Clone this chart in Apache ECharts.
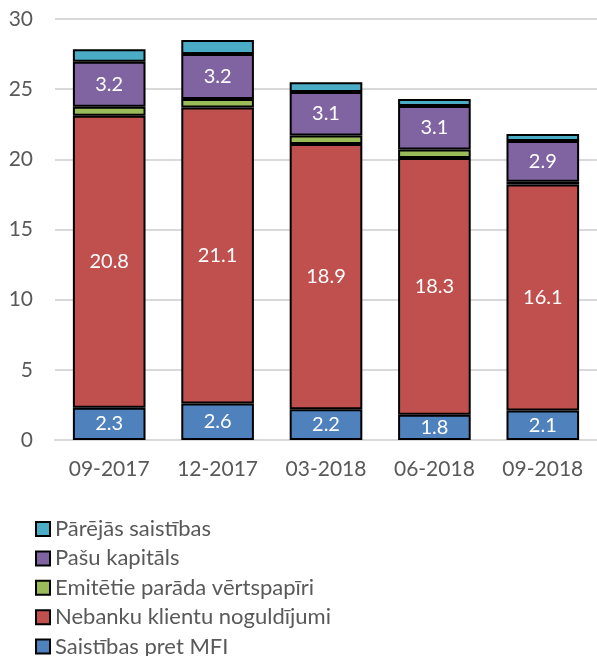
<!DOCTYPE html>
<html>
<head>
<meta charset="utf-8">
<script src="https://cdn.jsdelivr.net/npm/echarts@6/dist/echarts.min.js"></script>
<style>
  html, body { margin: 0; padding: 0; background: #fff; }
  #main { width: 597px; height: 656px; }
</style>
</head>
<body>
<div id="main"></div>
<script>
// categories and series values (bn EUR)
const categories = ['09-2017', '12-2017', '03-2018', '06-2018', '09-2018'];
const mfi = [2.3, 2.6, 2.2, 1.8, 2.1];
const deposits = [20.8, 21.1, 18.9, 18.3, 16.1];
const securities = [0.65, 0.6, 0.6, 0.6, 0.2];
const equity = [3.2, 3.2, 3.1, 3.1, 2.9];
const other = [0.9, 1.0, 0.7, 0.5, 0.5];

const names = [
    'Saistības pret MFI',
    'Nebanku klientu noguldījumi',
    'Emitētie parāda vērtspapīri',
    'Pašu kapitāls',
    'Pārējās saistības'
];
const colors = ['#4F81BD', '#C0504D', '#9BBB59', '#8064A2', '#4BACC6'];
const values = [mfi, deposits, securities, equity, other];
const showLabel = [true, true, false, true, false];

const font = 'Lato, "Open Sans", sans-serif';

function makeSeries(i) {
    return {
        name: names[i],
        type: 'bar',
        stack: 'total',
        barWidth: '67%',
        data: values[i],
        itemStyle: { color: colors[i], borderColor: '#000', borderWidth: 2 },
        label: {
            show: showLabel[i],
            position: 'inside',
            color: '#fff',
            fontFamily: font,
            fontSize: 20,
            formatter: function (p) { return p.value.toFixed(1); }
        }
    };
}

var chart = echarts.init(document.getElementById('main'));
chart.setOption({
    animation: false,
    grid: { left: 55, right: -3, top: 19, bottom: 216, containLabel: false },
    xAxis: {
        type: 'category',
        data: categories,
        axisTick: { show: false },
        axisLine: { lineStyle: { color: '#d9d9d9', width: 2 } },
        axisLabel: { color: '#595959', fontFamily: font, fontSize: 21, margin: 19 }
    },
    yAxis: {
        type: 'value',
        min: 0,
        max: 30,
        interval: 5,
        axisLabel: { color: '#595959', fontFamily: font, fontSize: 21, margin: 22 },
        splitLine: { lineStyle: { color: '#d9d9d9', width: 2 } }
    },
    legend: {
        orient: 'vertical',
        left: 35,
        top: 518,
        height: 200,
        padding: 0,
        itemGap: 7.4,
        itemWidth: 14,
        itemHeight: 14,
        icon: 'rect',
        data: names.slice().reverse(),
        itemStyle: { borderColor: '#000', borderWidth: 2 },
        textStyle: { color: '#595959', fontFamily: font, fontSize: 22 }
    },
    series: [0, 1, 2, 3, 4].map(makeSeries)
});
</script>
</body>
</html>
